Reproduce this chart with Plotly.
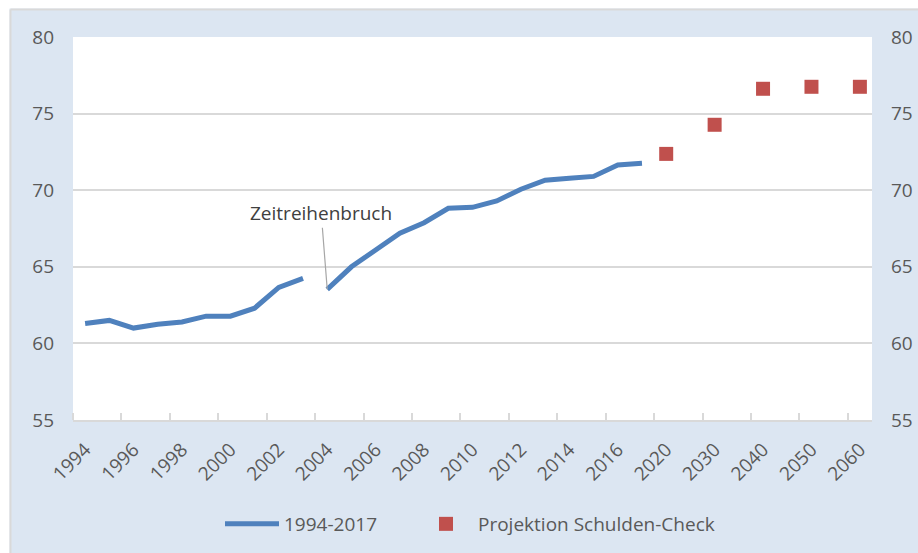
import plotly.graph_objects as go

# ---- data ----
hist_years = [1994, 1995, 1996, 1997, 1998, 1999, 2000, 2001, 2002, 2003,
              2004, 2005, 2006, 2007, 2008, 2009, 2010, 2011, 2012, 2013,
              2014, 2015, 2016, 2017]
hist_values = [61.3, 61.5, 61.0, 61.25, 61.4, 61.78, 61.78, 62.3, 63.66, 64.25,
               63.53, 65.0, 66.1, 67.19, 67.88, 68.82, 68.88, 69.3, 70.06, 70.65,
               70.78, 70.9, 71.65, 71.76]
break_year = 2004  # Zeitreihenbruch

proj_years = [2020, 2030, 2040, 2050, 2060]
proj_values = [72.37, 74.27, 76.62, 76.75, 76.75]

# category slots of the chart's category axis (projection years every second slot)
categories = [str(y) for y in hist_years] + ["2020", "2025", "2030", "2035",
                                             "2040", "2045", "2050", "2055", "2060"]
tick_labels = ["1994", "1996", "1998", "2000", "2002", "2004", "2006", "2008",
               "2010", "2012", "2014", "2016", "2020", "2030", "2040", "2050", "2060"]

series_names = ["1994-2017", "Projektion Schulden-Check"]
annotation_text = "Zeitreihenbruch"

# ---- styling ----
W, H = 918, 553
ML, MR, MT, MB = 73, 46, 37, 133
PW, PH = W - ML - MR, H - MT - MB
BLUE = "#4f81bd"
RED = "#c0504d"
TXT = "#595959"
GRID = "#d9d9d9"
BG = "#dce6f2"
FONT = "Open Sans"


def px_x(p):  # screen pixel -> paper fraction
    return (p - ML) / PW


def px_y(p):
    return (H - MB - p) / PH


idx = {c: i for i, c in enumerate(categories)}
hx = [idx[str(y)] for y in hist_years]
px_ = [idx[str(y)] for y in proj_years]
cut = hist_years.index(break_year)

fig = go.Figure()
fig.add_trace(go.Scatter(x=hx[:cut], y=hist_values[:cut], mode="lines",
                         line=dict(color=BLUE, width=5), name=series_names[0],
                         legendgroup="h", legend="legend"))
fig.add_trace(go.Scatter(x=hx[cut:], y=hist_values[cut:], mode="lines",
                         line=dict(color=BLUE, width=5), name=series_names[0],
                         legendgroup="h", showlegend=False, legend="legend"))
fig.add_trace(go.Scatter(x=px_, y=proj_values, mode="markers", yaxis="y2",
                         marker=dict(symbol="square", size=14, color=RED),
                         name=series_names[1], legend="legend2"))

fig.add_annotation(x=idx[str(break_year)], y=hist_values[cut], xref="x", yref="y",
                   text=annotation_text, showarrow=True, arrowhead=0,
                   arrowwidth=1.2, arrowcolor="#a6a6a6", ax=-6, ay=-76,
                   standoff=0, font=dict(family=FONT, size=19, color="#404040"))

tick_pos = [i for i, c in enumerate(categories) if c in tick_labels]

leg_common = dict(orientation="h", xanchor="left", y=px_y(524), yanchor="middle",
                  font=dict(size=19, color=TXT), bgcolor="rgba(0,0,0,0)",
                  itemwidth=54)

fig.update_layout(
    width=W, height=H,
    margin=dict(l=ML, r=MR, t=MT, b=MB, autoexpand=False),
    paper_bgcolor=BG, plot_bgcolor="white",
    font=dict(family=FONT, size=19, color=TXT),
    xaxis=dict(range=[-0.5, len(categories) - 0.5], tickmode="array",
               tickvals=tick_pos, ticktext=tick_labels, tickangle=-45,
               ticks="", showgrid=False, zeroline=False, automargin=False,
               showline=True, linecolor=GRID, linewidth=2, ticklabelstandoff=9,
               minor=dict(tick0=-0.5, dtick=2, ticks="inside", ticklen=7,
                          tickcolor=GRID, tickwidth=1.5, showgrid=False),
               tickfont=dict(size=19, color=TXT)),
    yaxis=dict(range=[55, 80], dtick=5, tick0=55, showgrid=True, gridcolor=GRID,
               gridwidth=1.5, zeroline=False, ticks="", ticklabelstandoff=18,
               automargin=False, tickfont=dict(size=19, color=TXT)),
    yaxis2=dict(range=[55, 80], dtick=5, tick0=55, overlaying="y", side="right",
                showgrid=False, zeroline=False, ticks="", ticklabelstandoff=18,
                automargin=False, tickfont=dict(size=19, color=TXT)),
    legend=dict(x=px_x(220), **leg_common),
    legend2=dict(x=px_x(414), **leg_common),
    showlegend=True,
    shapes=[
        dict(type="rect", xref="paper", yref="paper", x0=px_x(-5), x1=px_x(9.5),
             y0=px_y(H + 5), y1=px_y(-5), fillcolor="white", line=dict(width=0),
             layer="below"),
        dict(type="rect", xref="paper", yref="paper", x0=px_x(-5), x1=px_x(W + 5),
             y0=px_y(8.5), y1=px_y(-5), fillcolor="white", line=dict(width=0),
             layer="below"),
        dict(type="line", xref="paper", yref="paper", x0=px_x(10.5), x1=px_x(10.5),
             y0=px_y(9.5), y1=px_y(H + 20), line=dict(color=GRID, width=2),
             layer="below"),
        dict(type="line", xref="paper", yref="paper", x0=px_x(10.5), x1=px_x(W + 20),
             y0=px_y(9.5), y1=px_y(9.5), line=dict(color=GRID, width=2),
             layer="below"),
    ],
)

fig.write_html("out.html", config={"displayModeBar": False},
               post_script="document.body.style.margin='0';"
                           "document.body.style.overflow='hidden';")
